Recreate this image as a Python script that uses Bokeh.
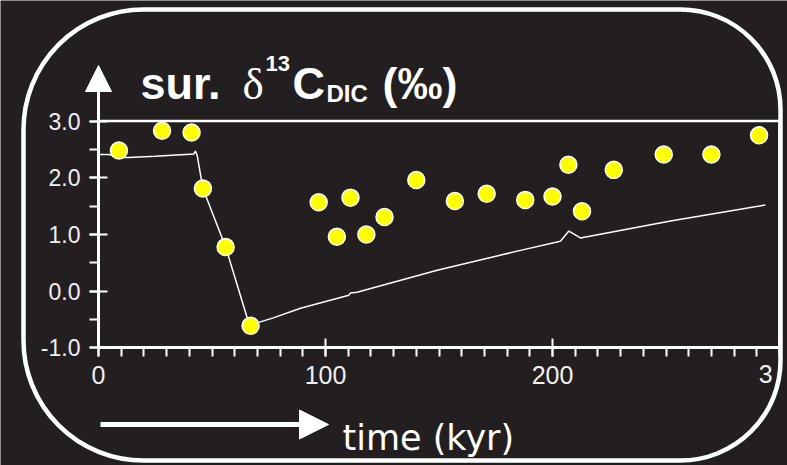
from bokeh.plotting import figure
from bokeh.models import (Range1d, FixedTicker, NumeralTickFormatter, Label,
                          Arrow, NormalHead, BoxAnnotation)
from bokeh.embed import file_html
from bokeh.resources import INLINE

# Surface-ocean d13C of dissolved inorganic carbon (permil) versus time (kyr)
obs_time = [9, 28, 41, 46, 56, 67, 97, 105, 111, 118, 126, 140, 157, 171,
            188, 200, 207, 213, 227, 249, 270, 291]
obs_d13c = [2.48, 2.83, 2.80, 1.81, 0.78, -0.61, 1.57, 0.96, 1.65, 1.00, 1.31,
            1.96, 1.59, 1.72, 1.61, 1.67, 2.23, 1.41, 2.14, 2.41, 2.41, 2.75]

# Model run
model_time = [0.5, 4.5, 8.9, 13.3, 25, 42.0, 42.7, 43.5, 46.0, 56.0, 66.5,
              70.6, 77, 89, 110.3, 111.0, 113.9, 149.2, 185.9, 203.5, 207.2,
              212.3, 252, 293.8]
model_d13c = [2.41, 2.41, 2.36, 2.36, 2.38, 2.42, 2.47, 2.39, 1.81, 0.78, -0.60,
              -0.55, -0.47, -0.30, -0.07, -0.03, -0.02, 0.37, 0.72, 0.88, 1.06,
              0.94, 1.24, 1.52]

x_ticks = [0, 100, 200, 300]
x_tick_labels = ["0", "100", "200", "300"]
x_minor = list(range(0, 301, 10))
y_ticks = [-1.0, 0.0, 1.0, 2.0, 3.0]
y_minor = [-1.0, -0.5, 0.0, 0.5, 1.0, 1.5, 2.0, 2.5, 3.0]

BG = "#231f20"
FG = "white"
W, H = 787, 465

# page layout: where the axis origin sits on the canvas and its scale
X0_PX, KYR_PX = 98.0, 2.27
YTOP_PX, UNIT_PX = 120.6, 56.7


def dx(px):
    return (px - X0_PX) / KYR_PX


def dy(py):
    return y_ticks[-1] - (py - YTOP_PX) / UNIT_PX


p = figure(width=W, height=H,
           x_range=Range1d(dx(0), dx(W)), y_range=Range1d(dy(H), dy(0)),
           output_backend="svg", toolbar_location=None, min_border=0,
           background_fill_color=BG, border_fill_color=BG,
           outline_line_color=None)
p.grid.visible = False

xa = p.xaxis[0]
xa.fixed_location = y_ticks[0]
xa.bounds = (x_ticks[0], x_ticks[-1])
xa.ticker = FixedTicker(ticks=x_ticks, minor_ticks=x_minor)
xa.major_label_text_font_size = "25px"
xa.major_label_standoff = 9
# the last label runs under the panel edge; it is drawn as a free label below
xa.major_label_overrides = {x_ticks[-1]: ""}

ya = p.yaxis[0]
ya.fixed_location = x_ticks[0]
ya.bounds = (y_ticks[0], y_ticks[-1])
ya.ticker = FixedTicker(ticks=y_ticks, minor_ticks=y_minor)
ya.formatter = NumeralTickFormatter(format="0.0")
ya.major_label_text_font_size = "23px"
ya.major_label_standoff = 9

for ax in (xa, ya):
    ax.axis_line_color = FG
    ax.axis_line_width = 3
    ax.major_tick_line_color = FG
    ax.major_tick_line_width = 2
    ax.minor_tick_line_color = FG
    ax.minor_tick_line_width = 2
    ax.major_tick_in = 9
    ax.major_tick_out = 9
    ax.minor_tick_in = 0
    ax.minor_tick_out = 9
    ax.major_label_text_color = "#f0f0f0"
    ax.major_label_text_font = "Liberation Sans"

p.add_layout(Label(x=x_ticks[-1], y=dy(373), text=x_tick_labels[-1],
                   text_font="Liberation Sans", text_font_size="25px",
                   text_color="#f0f0f0", text_align="center",
                   text_baseline="alphabetic"))

# top and right frame lines
p.line([x_ticks[0], x_ticks[-1]], [y_ticks[-1], y_ticks[-1]], color=FG, line_width=2.5)
p.line([x_ticks[-1], x_ticks[-1]], [y_ticks[0], y_ticks[-1]], color=FG, line_width=2.5)

p.line(model_time, model_d13c, color=FG, line_width=1.5)
p.scatter(obs_time, obs_d13c, size=17, fill_color="#ffff00",
          line_color=FG, line_width=1.5)

# arrows on the value axis and under the time axis
p.add_layout(Arrow(x_start=x_ticks[0], y_start=y_ticks[-1], x_end=x_ticks[0], y_end=dy(65),
                   line_color=FG, line_width=3,
                   end=NormalHead(size=26, fill_color=FG, line_color=FG, line_width=1)))
p.add_layout(Arrow(x_start=dx(100), y_start=dy(424), x_end=dx(328), y_end=dy(424),
                   line_color=FG, line_width=5,
                   end=NormalHead(size=29, fill_color=FG, line_color=FG, line_width=1)))


def label(text, px, py, size, style="bold", font="Liberation Sans"):
    p.add_layout(Label(x=dx(px), y=dy(py), text=text, text_font=font,
                       text_font_size=size, text_font_style=style,
                       text_color=FG, text_align="left",
                       text_baseline="alphabetic"))


label("sur.", 140, 83, "45px")
label("\u03b4", 242, 83, "45px", style="normal", font="Liberation Serif")
label("13", 265, 63, "22px")
label("C", 292, 83, "45px")
label("DIC", 326, 93, "24px")
label("(\u2030)", 382, 83, "45px")
label("time (kyr)", 342, 437, "35px", style="normal", font="DejaVu Sans")

# rounded panel border; content past its right edge stays hidden
p.add_layout(BoxAnnotation(left=dx(772), right=dx(800), top=dy(357), bottom=dy(402),
                           fill_color=BG, fill_alpha=1.0, line_color=None,
                           level="overlay"))
p.add_layout(BoxAnnotation(left=dx(23), right=dx(780), top=dy(9), bottom=dy(460),
                           fill_alpha=0.0, line_color=FG, line_alpha=1.0,
                           line_width=4.5, level="overlay",
                           border_radius=(120, 100, 100, 120)))

open("out.html", "w").write(file_html(p, INLINE))
